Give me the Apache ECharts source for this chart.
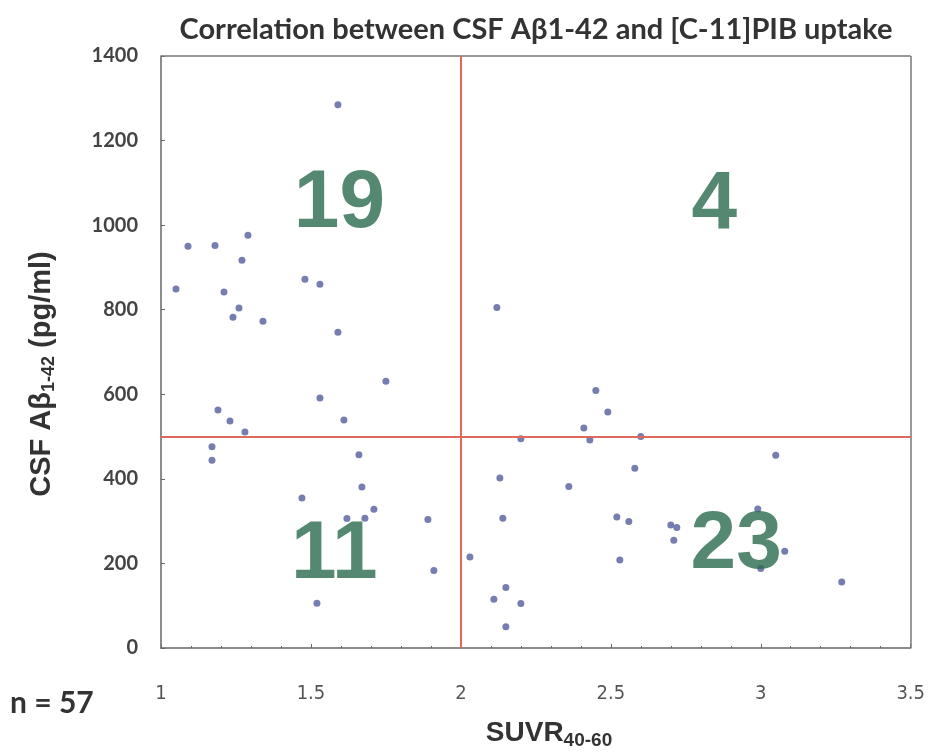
<!DOCTYPE html>
<html>
<head>
<meta charset="utf-8">
<script src="https://cdn.jsdelivr.net/npm/echarts@6/dist/echarts.min.js"></script>
<style>
  html, body { margin: 0; padding: 0; background: #fff; }
  #main { width: 928px; height: 753px; }
</style>
</head>
<body>
<div id="main"></div>
<script>
// SUVR (x) and CSF Abeta1-42 (y)
var suvr = [
  1.59, 1.09, 1.18, 1.29, 1.27, 1.05, 1.21, 1.48, 1.53, 1.26,
  1.24, 1.34, 1.59, 1.75, 1.53, 1.19, 1.23, 1.61, 1.28,
  1.17, 1.17, 1.66, 1.67, 1.47, 1.71, 1.62, 1.68, 1.89, 1.91, 1.52,
  2.12, 2.45, 2.49, 2.41,
  2.20, 2.43, 2.60, 3.05, 2.58, 2.13, 2.36, 2.99, 2.14, 2.52,
  2.56, 2.70, 2.72, 2.71, 3.08, 2.03, 2.53, 3.00, 3.27, 2.15,
  2.11, 2.20, 2.15
];
var csf = [
  1285, 950, 952, 976, 917, 849, 842, 872, 860, 804,
  782, 773, 747, 631, 591, 563, 537, 539, 511,
  476, 444, 457, 381, 355, 328, 306, 307, 304, 183, 106,
  805, 609, 558, 520,
  495, 492, 500, 456, 425, 402, 382, 329, 307, 310,
  299, 291, 285, 255, 229, 215, 208, 188, 156, 143,
  115, 105, 50
];
var xTicks = [1, 1.5, 2, 2.5, 3, 3.5];
var yTicks = [0, 200, 400, 600, 800, 1000, 1200, 1400];
var cutX = 2;
var cutY = 500;
// quadrant counts and where they sit
var countText = ['19', '4', '11', '23'];
var countX = [1.595, 2.845, 1.578, 2.918];
var countY = [1050, 1047, 218, 243];

var points = suvr.map(function (v, i) { return [v, csf[i]]; });
var counts = countText.map(function (t, i) { return { value: [countX[i], countY[i]], name: t }; });

var myChart = echarts.init(document.getElementById('main'));

var option = {
  backgroundColor: '#fff',
  animation: false,
  title: {
    text: 'Correlation between CSF A\u03b21-42 and [C-11]PIB uptake',
    left: 531,
    textAlign: 'center',
    top: 10,
    textStyle: { fontFamily: 'Lato', fontWeight: 'bold', fontSize: 29, color: '#333' }
  },
  graphic: [
    {
      type: 'text', left: 10, top: 688,
      style: { text: 'n = 57', font: 'bold 30px Lato', fill: '#333' }
    },
    {
      // y axis title
      type: 'text', x: 42, y: 374, rotation: Math.PI / 2,
      style: {
        text: '{b|CSF A\u03b2}{s|1-42}{b| (pg/ml)}',
        align: 'center', verticalAlign: 'middle',
        rich: {
          b: { fontFamily: 'Liberation Sans', fontWeight: 'bold', fontSize: 29, fill: '#333' },
          s: { fontFamily: 'Liberation Sans', fontWeight: 'bold', fontSize: 18, fill: '#333', verticalAlign: 'bottom', padding: [14, 0, 0, 0] }
        }
      }
    },
    {
      // x axis title
      type: 'text', x: 549, y: 733,
      style: {
        text: '{b|SUVR}{s|40-60}',
        align: 'center', verticalAlign: 'middle',
        rich: {
          b: { fontFamily: 'Liberation Sans', fontWeight: 'bold', fontSize: 28, fill: '#333' },
          s: { fontFamily: 'Liberation Sans', fontWeight: 'bold', fontSize: 19, fill: '#333', verticalAlign: 'bottom', padding: [16, 0, 0, 0] }
        }
      }
    }
  ],
  grid: { left: 161, right: 15, top: 56, bottom: 105 },
  xAxis: {
    type: 'value',
    min: 1, max: 3.5, interval: 0.5,
    axisLine: { onZero: false, lineStyle: { color: '#666', width: 1.5 } },
    axisTick: { show: true, length: 4, inside: true, lineStyle: { color: '#666' } },
    minorTick: { show: true, splitNumber: 5, length: 2 },
    axisLabel: {
      margin: 36,
      fontFamily: 'DejaVu Sans Condensed',
      fontSize: 20, color: '#555',
      formatter: function (v) { return xTicks.indexOf(v) >= 0 ? String(v) : ''; }
    },
    splitLine: { show: false }
  },
  yAxis: {
    type: 'value',
    min: 0, max: 1400, interval: 200,
    axisLine: { show: true, lineStyle: { color: '#666', width: 1.5 } },
    axisTick: { show: true, length: 4, inside: true, lineStyle: { color: '#666' } },
    axisLabel: {
      margin: 23,
      fontFamily: 'Lato', fontWeight: 'bold',
      fontSize: 20, color: '#444',
      formatter: function (v) { return yTicks.indexOf(v) >= 0 ? String(v) : ''; }
    },
    splitLine: { show: false }
  },
  series: [
    {
      name: 'frame',
      type: 'line',
      data: [],
      markLine: {
        silent: true, symbol: 'none', label: { show: false },
        lineStyle: { color: '#777', width: 1.5, type: 'solid' },
        data: [{ xAxis: 3.5 }, { yAxis: 1400 }]
      }
    },
    {
      name: 'CSF vs PIB',
      type: 'scatter',
      symbolSize: 7,
      itemStyle: { color: '#6f77ad', opacity: 0.95 },
      data: points,
      z: 3,
      markLine: {
        silent: true, symbol: 'none', label: { show: false },
        lineStyle: { color: '#dd6a5c', width: 2, type: 'solid' },
        data: [{ xAxis: cutX }, { yAxis: cutY }]
      }
    },
    {
      name: 'counts',
      type: 'scatter',
      symbolSize: 0,
      data: counts,
      z: 4,
      label: {
        show: true,
        position: 'inside',
        formatter: '{b}',
        fontFamily: 'Liberation Sans',
        fontWeight: 'bold',
        fontSize: 82,
        color: '#2b6a4e'
      }
    }
  ]
};

myChart.setOption(option);
</script>
</body>
</html>
